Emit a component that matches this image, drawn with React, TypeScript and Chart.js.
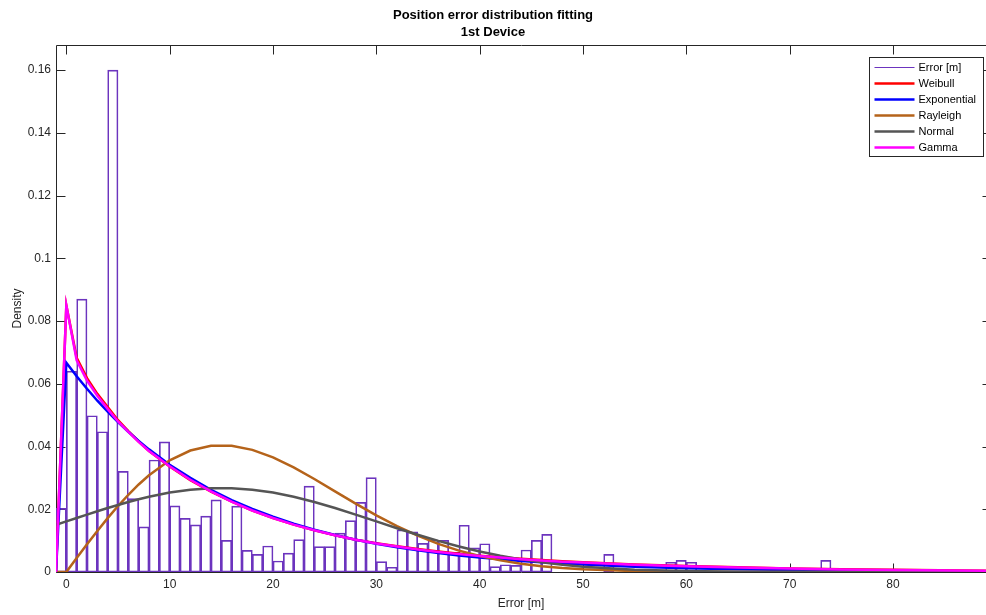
import React, { useEffect, useRef } from 'react';
import { Chart, registerables } from 'chart.js';

Chart.register(...registerables);

// ---------- data ----------
const histFirstEdge = -1;
const histBinWidth = 1;
// density of each 1 m bin, starting at [-1,0)
const histDensity = [
  0.0203, 0.064, 0.087, 0.0498, 0.0447, 0.16, 0.0321, 0.0234, 0.0144, 0.0357,
  0.0415, 0.0211, 0.0171, 0.015, 0.0178, 0.023, 0.0101, 0.021, 0.0069, 0.0056,
  0.0083, 0.0035, 0.006, 0.0103, 0.0274, 0.0081, 0.0081, 0.0124, 0.0164, 0.0222,
  0.0301, 0.0033, 0.0015, 0.0134, 0.0128, 0.0091, 0.0102, 0.0101, 0.0063, 0.0149,
  0.0077, 0.009, 0.0017, 0.0023, 0.0021, 0.007, 0.0101, 0.012, 0, 0,
  0, 0, 0, 0.0056, 0, 0, 0, 0, 0, 0.0031,
  0.0037, 0.0031, 0, 0, 0, 0, 0, 0, 0, 0,
  0, 0, 0, 0, 0.0037, 0, 0, 0, 0, 0,
  0, 0, 0, 0, 0, 0, 0, 0, 0, 0,
];

const curveX = [
  -1, 0, 1, 2, 3, 4, 5, 6, 7, 8, 10, 12, 14, 16, 18, 20, 22, 24, 26, 28, 30,
  32, 34, 36, 38, 40, 42, 44, 46, 48, 50, 55, 60, 65, 70, 75, 80, 89,
];
const weibullPdf = [
  0, 0.085, 0.0683, 0.0618, 0.0568, 0.0526, 0.0484, 0.0449, 0.0416, 0.0386, 0.0336,
  0.0293, 0.0256, 0.0224, 0.0196, 0.0172, 0.0151, 0.0133, 0.0117, 0.0103, 0.0092,
  0.0082, 0.0073, 0.0065, 0.0058, 0.0052, 0.0047, 0.0042, 0.0038, 0.0034, 0.0031,
  0.0024, 0.0019, 0.0015, 0.0011, 0.0009, 0.0007, 0.0004,
];
const exponentialPdf = [
  0, 0.0667, 0.0624, 0.0584, 0.0546, 0.0511, 0.0478, 0.0447, 0.0418, 0.0391, 0.0342,
  0.03, 0.0262, 0.0229, 0.0201, 0.0176, 0.0154, 0.01347, 0.01178, 0.01031, 0.00903,
  0.0079, 0.00691, 0.00605, 0.00529, 0.00463, 0.00405, 0.00354, 0.0031, 0.00271, 0.00238,
  0.0017, 0.00122, 0.00087, 0.00063, 0.00045, 0.00032, 0.00018,
];
const rayleighPdf = [
  0, 0, 0.00443, 0.00881, 0.01307, 0.01716, 0.02102, 0.02462, 0.0279, 0.03085, 0.0356,
  0.03873, 0.04025, 0.04025, 0.03894, 0.03654, 0.03335, 0.02965, 0.02572, 0.02179, 0.01804,
  0.0146, 0.01158, 0.00898, 0.00682, 0.00508, 0.0037, 0.00265, 0.00186, 0.00127, 0.00086,
  0.00029, 0.00009, 0.00002, 0, 0, 0, 0,
];
const normalPdf = [
  0.01505, 0.01613, 0.01722, 0.0183, 0.01936, 0.02039, 0.02137, 0.02231, 0.02318, 0.02397, 0.02531,
  0.02623, 0.02671, 0.02671, 0.02623, 0.02531, 0.02397, 0.02231, 0.02039, 0.0183, 0.01613,
  0.01396, 0.01187, 0.00992, 0.00813, 0.00655, 0.00518, 0.00403, 0.00307, 0.0023, 0.0017,
  0.00073, 0.00028, 0.0001, 0.00003, 0.00001, 0, 0,
];
const gammaPdf = [
  0, 0.085, 0.0675, 0.061, 0.0562, 0.052, 0.048, 0.0447, 0.0415, 0.0386, 0.0337,
  0.0294, 0.0257, 0.0224, 0.0196, 0.0172, 0.0151, 0.0133, 0.0117, 0.0103, 0.0091,
  0.0081, 0.0072, 0.0064, 0.0057, 0.0051, 0.0046, 0.0041, 0.0037, 0.0033, 0.003,
  0.0023, 0.0018, 0.0014, 0.0011, 0.0008, 0.0006, 0.0004,
];

const seriesLabels = ['Error [m]', 'Weibull', 'Exponential', 'Rayleigh', 'Normal', 'Gamma'];
const xTickValues = [0, 10, 20, 30, 40, 50, 60, 70, 80];
const xTickLabels = ['0', '10', '20', '30', '40', '50', '60', '70', '80'];
const yTickValues = [0, 0.02, 0.04, 0.06, 0.08, 0.1, 0.12, 0.14, 0.16];
const yTickLabels = ['0', '0.02', '0.04', '0.06', '0.08', '0.1', '0.12', '0.14', '0.16'];
const titleLines = ['Position error distribution fitting', '1st Device'];
const xAxisTitle = 'Error [m]';
const yAxisTitle = 'Density';

// ---------- styles ----------
const FONT = '"Liberation Sans", Arial, Helvetica, sans-serif';
const AXIS_COLOR = '#262626';
const seriesColors = ['#6c34be', '#ff0000', '#0000ff', '#b5631a', '#555555', '#ff00ff'];

const framePlugin = {
  id: 'matlabFrame',
  beforeDatasetsDraw(chart: any) {
    const { ctx, chartArea: a, scales } = chart;
    const L = Math.round(a.left) + 0.5;
    const R = Math.round(a.right) + 0.5; // right box edge sits just past the canvas
    const T = Math.round(a.top) + 0.5;
    const B = Math.round(a.bottom) + 0.5;
    ctx.save();
    ctx.strokeStyle = AXIS_COLOR;
    ctx.lineWidth = 1;
    ctx.beginPath();
    ctx.moveTo(R, T); ctx.lineTo(L, T); ctx.lineTo(L, B); ctx.lineTo(R, B);
    ctx.stroke();
    const tl = 9;
    ctx.beginPath();
    scales.x.ticks.forEach((t: any) => {
      const px = Math.round(scales.x.getPixelForValue(t.value)) + 0.5;
      ctx.moveTo(px, B); ctx.lineTo(px, B - tl);
      ctx.moveTo(px, T); ctx.lineTo(px, T + tl);
    });
    scales.y.ticks.forEach((t: any) => {
      const py = Math.round(scales.y.getPixelForValue(t.value)) + 0.5;
      ctx.moveTo(L, py); ctx.lineTo(L + tl, py);
      ctx.moveTo(R, py); ctx.lineTo(R - 4, py);
    });
    ctx.stroke();
    ctx.restore();
  },
};

const legendPlugin = {
  id: 'insideLegend',
  afterDatasetsDraw(chart: any) {
    const { ctx, chartArea: a } = chart;
    const ds = chart.data.datasets;
    const rowH = 16;
    const w = 114;
    const h = ds.length * rowH + 3;
    const x0 = Math.round(a.right - 3 - w) + 0.5;
    const y0 = Math.round(a.top + 12) + 0.5;
    ctx.save();
    ctx.fillStyle = '#ffffff';
    ctx.fillRect(x0, y0, w, h);
    ctx.strokeStyle = AXIS_COLOR;
    ctx.lineWidth = 1;
    ctx.strokeRect(x0, y0, w, h);
    ctx.font = `11px ${FONT}`;
    ctx.textBaseline = 'middle';
    ctx.textAlign = 'left';
    ds.forEach((d: any, i: number) => {
      const cy = y0 + 10 + i * rowH;
      ctx.beginPath();
      ctx.strokeStyle = d.legendColor;
      ctx.lineWidth = d.legendWidth;
      ctx.moveTo(x0 + 5, cy);
      ctx.lineTo(x0 + 45, cy);
      ctx.stroke();
      ctx.fillStyle = '#000000';
      ctx.fillText(d.label, x0 + 49, cy + 0.5);
    });
    ctx.restore();
  },
};

export default function App() {
  const canvasRef = useRef<HTMLCanvasElement | null>(null);

  useEffect(() => {
    const canvas = canvasRef.current;
    if (!canvas) return;

    const histData = histDensity.map((v, i) => ({
      x: histFirstEdge + histBinWidth * (i + 0.5),
      y: v,
    }));
    const curves = [weibullPdf, exponentialPdf, rayleighPdf, normalPdf, gammaPdf];
    const curveDatasets = curves.map((vals, k) => ({
      type: 'line' as const,
      label: seriesLabels[k + 1],
      data: vals.map((v, i) => ({ x: curveX[i], y: v })),
      borderColor: seriesColors[k + 1],
      legendColor: seriesColors[k + 1],
      legendWidth: 2.5,
      borderWidth: 2.5,
      pointRadius: 0,
      tension: 0,
      fill: false,
      order: 5 - k,
    }));

    const chart = new Chart(canvas, {
      type: 'bar',
      data: {
        datasets: [
          {
            type: 'bar' as const,
            label: seriesLabels[0],
            data: histData,
            backgroundColor: 'rgba(255,255,255,0)',
            borderColor: seriesColors[0],
            legendColor: seriesColors[0],
            legendWidth: 1,
            borderWidth: 1,
            borderSkipped: false,
            barPercentage: 1,
            categoryPercentage: 1,
            order: 6,
          } as any,
          ...(curveDatasets as any[]),
        ],
      },
      options: {
        responsive: false,
        animation: false,
        devicePixelRatio: 1,
        layout: { padding: 0 },
        plugins: {
          legend: { display: false },
          tooltip: { enabled: false },
          title: {
            display: true,
            text: titleLines,
            color: '#000000',
            font: { family: FONT, size: 13, weight: 'bold', lineHeight: 1.3 },
            padding: { top: 7, bottom: 4.2 },
          },
        },
        scales: {
          x: {
            type: 'linear',
            min: -1,
            max: 89,
            offset: false,
            grid: { display: false, drawTicks: false },
            border: { display: false },
            afterBuildTicks: (s: any) => {
              s.ticks = xTickValues.map((v) => ({ value: v }));
            },
            ticks: {
              padding: 5,
              maxRotation: 0,
              autoSkip: false,
              color: AXIS_COLOR,
              font: { family: FONT, size: 12 },
              callback: (_v: any, i: number) => xTickLabels[i],
            },
            title: {
              display: true,
              text: xAxisTitle,
              color: AXIS_COLOR,
              font: { family: FONT, size: 12 },
              padding: { top: 0, bottom: 4 },
            },
            afterFit: (s: any) => { s.height = 43; },
          },
          y: {
            type: 'linear',
            min: 0,
            max: 0.168,
            grid: { display: false, drawTicks: false },
            border: { display: false },
            afterBuildTicks: (s: any) => {
              s.ticks = yTickValues.map((v) => ({ value: v }));
            },
            ticks: {
              padding: 5,
              color: AXIS_COLOR,
              font: { family: FONT, size: 12 },
              callback: (_v: any, i: number) => yTickLabels[i],
            },
            title: {
              display: true,
              text: yAxisTitle,
              color: AXIS_COLOR,
              font: { family: FONT, size: 12 },
              padding: { top: 10, bottom: 0 },
            },
            afterFit: (s: any) => { s.width = 56; },
          },
        },
      } as any,
      plugins: [framePlugin, legendPlugin],
    });

    return () => chart.destroy();
  }, []);

  return (
    <div style={{ position: 'absolute', left: 0, top: 0, width: 986, height: 615, background: '#ffffff' }}>
      <canvas ref={canvasRef} width={986} height={615} />
    </div>
  );
}
